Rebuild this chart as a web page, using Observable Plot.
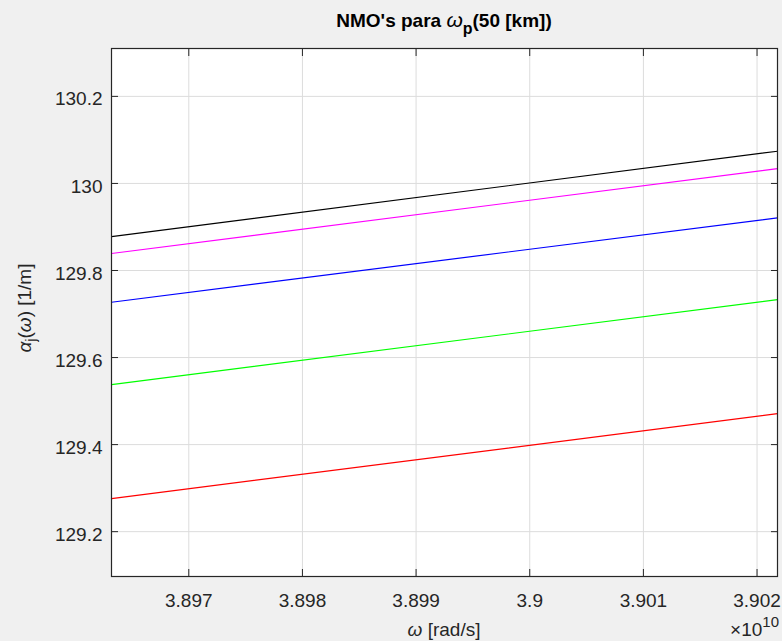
<!DOCTYPE html>
<html><head><meta charset="utf-8">
<script src="https://cdn.jsdelivr.net/npm/d3@7"></script>
<script src="https://cdn.jsdelivr.net/npm/@observablehq/plot@0.6"></script>
<style>
html,body{margin:0;padding:0;background:#f0f0f0;overflow:hidden;}
</style></head><body><div id="chart"></div>
<script>
// Data
const omegaRange = [3.89632e10, 3.90218e10];           // x extent of each line (rad/s)
const seriesNames = ["j=1", "j=2", "j=3", "j=4", "j=5"];
const seriesColors = ["#000000", "#ff00ff", "#0000ff", "#00ff00", "#ff0000"];
const alphaStart = [129.878, 129.839, 129.727, 129.538, 129.276];  // alpha at left end
const alphaEnd = [130.074, 130.034, 129.921, 129.733, 129.471];    // alpha at right end
const xTicks = [3.897e10, 3.898e10, 3.899e10, 3.900e10, 3.901e10, 3.902e10];
const xTickLabels = ["3.897", "3.898", "3.899", "3.9", "3.901", "3.902"];
const yTicks = [129.2, 129.4, 129.6, 129.8, 130.0, 130.2];
const yTickLabels = ["129.2", "129.4", "129.6", "129.8", "130", "130.2"];
const xDomain = [3.89632e10, 3.90218e10];
const yDomain = [129.097, 130.31];

const rows = [];
seriesNames.forEach((s, i) => {
  rows.push({series: s, omega: omegaRange[0], alpha: alphaStart[i]});
  rows.push({series: s, omega: omegaRange[1], alpha: alphaEnd[i]});
});

const font = "'Liberation Sans', Arial, Helvetica, sans-serif";
const fmtX = d => xTickLabels[xTicks.indexOf(d)];
const fmtY = d => yTickLabels[yTicks.indexOf(d)];
const blank = () => "";

const plot = Plot.plot({
  width: 782, height: 641,
  marginLeft: 111, marginRight: 5, marginTop: 48, marginBottom: 65,
  style: {background: "#f0f0f0", fontFamily: font, fontSize: "19px", color: "#262626"},
  x: {domain: xDomain},
  y: {domain: yDomain},
  color: {domain: seriesNames, range: seriesColors},
  marks: [
    Plot.frame({fill: "white", stroke: null}),
    Plot.gridX(xTicks, {stroke: "#dcdcdc", strokeOpacity: 1}),
    Plot.gridY(yTicks, {stroke: "#dcdcdc", strokeOpacity: 1}),
    Plot.line(rows, {x: "omega", y: "alpha", z: "series", stroke: "series", strokeWidth: 1.2}),
    Plot.axisX(xTicks, {anchor: "bottom", tickSize: 0, tickPadding: 17, tickFormat: fmtX, label: null, fill: "#262626"}),
    Plot.axisY(yTicks, {anchor: "left", tickSize: 0, tickPadding: 9, dy: 3, tickFormat: fmtY, label: null, fill: "#262626"}),
    // inward tick marks on all four sides (MATLAB box style)
    Plot.axisX(xTicks, {anchor: "bottom", tickSize: 7, dy: -7, tickFormat: blank, label: null, stroke: "#262626"}),
    Plot.axisX(xTicks, {anchor: "top", tickSize: 7, dy: 7, tickFormat: blank, label: null, stroke: "#262626"}),
    Plot.axisY(yTicks, {anchor: "left", tickSize: 7, dx: 7, tickFormat: blank, label: null, stroke: "#262626"}),
    Plot.axisY(yTicks, {anchor: "right", tickSize: 7, dx: -7, tickFormat: blank, label: null, stroke: "#262626"}),
    Plot.frame({stroke: "#262626", strokeWidth: 1.2})
  ]
});

document.getElementById("chart").appendChild(plot);

const svg = d3.select(plot);
// Title
const t = svg.append("text").attr("x", 444).attr("y", 27).attr("text-anchor", "middle")
  .style("font-family", font).style("font-size", "19px").style("font-weight", "bold").attr("fill", "#000");
t.append("tspan").text("NMO's para ");
t.append("tspan").text("ω").style("font-style", "italic").style("font-weight", "normal").style("font-size", "21px");
t.append("tspan").text("p").attr("dy", 7).style("font-size", "16px");
t.append("tspan").text("(50 [km])").attr("dy", -7);

// Y label
const yl = svg.append("text").attr("transform", "translate(31,308) rotate(-90)").attr("text-anchor", "middle")
  .style("font-family", font).style("font-size", "19px").attr("fill", "#262626");
yl.append("tspan").text("α").style("font-style", "italic");
yl.append("tspan").text("j").attr("dy", 5).style("font-size", "14px");
yl.append("tspan").text("(").attr("dy", -5);
yl.append("tspan").text("ω").style("font-style", "italic");
yl.append("tspan").text(") [1/m]");

// X label
const xl = svg.append("text").attr("x", 444).attr("y", 636).attr("text-anchor", "middle")
  .style("font-family", font).style("font-size", "19px").attr("fill", "#262626");
xl.append("tspan").text("ω").style("font-style", "italic");
xl.append("tspan").text(" [rad/s]");

// Exponent
const ex = svg.append("text").attr("x", 779).attr("y", 636).attr("text-anchor", "end")
  .style("font-family", font).style("font-size", "19px").attr("fill", "#262626");
ex.append("tspan").text("×10");
ex.append("tspan").text("10").attr("dy", -9).style("font-size", "15px");
</script>
</body></html>
